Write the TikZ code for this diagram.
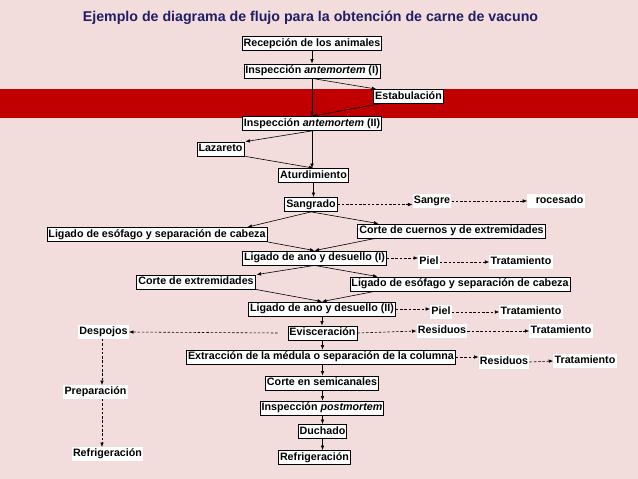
\documentclass[tikz,border=0pt]{standalone}
\usepackage{fontspec}
\setmainfont{Liberation Sans}
\usetikzlibrary{arrows.meta}
\definecolor{bgpink}{RGB}{242,220,220}
\definecolor{bandred}{RGB}{192,0,0}
\definecolor{titleblue}{RGB}{32,30,100}
\begin{document}
\begin{tikzpicture}[x=1pt,y=-1pt,
  box/.style={draw=black,line width=0.8pt,fill=white,inner xsep=1.5pt,inner ysep=1.5pt,
    text height=8.4pt,text depth=2.6pt,font=\fontsize{10.7}{12}\selectfont\bfseries},
  lab/.style={fill=white,inner xsep=1.2pt,inner ysep=1.2pt,
    text height=8.4pt,text depth=2.6pt,font=\fontsize{10.7}{12}\selectfont\bfseries},
  arr/.style={line width=0.6pt,-{Latex[length=4.5pt,width=3.6pt]}},
  darr/.style={line width=0.6pt,dash pattern=on 2.5pt off 1.8pt,-{Latex[length=4.5pt,width=3.6pt]}}]
% background
\fill[bgpink] (0,0) rectangle (638,479);
\useasboundingbox (0,0) rectangle (638,479);
\fill[bandred] (0,88.5) rectangle (638,118);
% title
\node[font=\fontsize{14.2}{17}\selectfont\bfseries,text=titleblue] (title) at (310.5,18) {Ejemplo de diagrama de flujo para la obtención de carne de vacuno};
% main boxes
\node[box] (rec) at (312,43.5) {Recepción de los animales};
\node[box] (ins1) at (312,71) {Inspección \textit{antemortem} (I)};
\node[box] (est) at (408.5,96.5) {Estabulación};
\node[box] (ins2) at (312,123.5) {Inspección \textit{antemortem} (II)};
\node[box] (laz) at (220.5,149) {Lazareto};
\node[box] (atu) at (313.5,175.5) {Aturdimiento};
\node[box] (san) at (311,204.5) {Sangrado};
\node[lab] (sgre) at (432,201) {Sangre};
\node[lab] (proc) at (556,201) {\textcolor{white}{P}rocesado};
\node[box] (le1) at (157,234.5) {Ligado de esófago y separación de cabeza};
\node[box] (ccu) at (451.5,231) {Corte de cuernos y de extremidades};
\node[box] (la1) at (314.5,258) {Ligado de ano y desuello (I)};
\node[lab] (piel1) at (429,262) {Piel};
\node[lab] (tra1) at (521,262) {Tratamiento};
\node[box] (cext) at (196,282) {Corte de extremidades};
\node[box] (le2) at (460,284) {Ligado de esófago y separación de cabeza};
\node[box] (la2) at (322,309) {Ligado de ano y desuello (II)};
\node[lab] (piel2) at (441,312) {Piel};
\node[lab] (tra2) at (531,312) {Tratamiento};
\node[box] (evi) at (322.5,333) {Evisceración};
\node[lab] (res1) at (442,331) {Residuos};
\node[lab] (tra3) at (561,331) {Tratamiento};
\node[lab] (desp) at (103.5,332) {Despojos};
\node[box] (ext) at (321,357) {Extracción de la médula o separación de la columna};
\node[lab] (res2) at (504,362) {Residuos};
\node[lab] (tra4) at (585,361) {Tratamiento};
\node[box] (cse) at (322,383) {Corte en semicanales};
\node[box] (ipm) at (322,408) {Inspección \textit{postmortem}};
\node[box] (duc) at (322.5,431.5) {Duchado};
\node[box] (ref) at (314.5,457.5) {Refrigeración};
\node[lab] (prep) at (95.5,392) {Preparación};
\node[lab] (ref2) at (107.5,454) {Refrigeración};
% solid connectors
\draw[arr] (rec.south) -- (ins1.north);
\draw[arr] (ins1.south) -- (ins2.north);
\draw[arr] (ins1.south) -- ([xshift=3pt]est.north west);
\draw[arr] ([xshift=6pt]est.south west) -- (ins2.north);
\draw[arr] (ins2.south) -- ([xshift=1pt]laz.north east);
\draw[arr] (ins2.south) -- (ins2.south |- atu.north);
\draw[arr] ([xshift=1pt]laz.south east) -- (atu.north);
\draw[arr] (atu.south) -- (atu.south |- san.north);
\draw[arr] (san.south) -- ([xshift=-20pt]le1.north east);
\draw[arr] (san.south) -- ([xshift=21pt]ccu.north west);
\draw[arr] (le1.south east) -- (la1.north);
\draw[arr] ([xshift=18pt]ccu.south west) -- (la1.north);
\draw[arr] (la1.south) -- ([xshift=1pt]cext.north east);
\draw[arr] (la1.south) -- ([xshift=28pt]le2.north west);
\draw[arr] (cext.south east) -- (la2.north);
\draw[arr] ([xshift=25pt]le2.south west) -- (la2.north);
\draw[arr] (la2.south) -- (la2.south |- evi.north);
\draw[arr] (evi.south) -- (evi.south |- ext.north);
\draw[arr] (evi.south |- ext.south) -- (evi.south |- cse.north);
\draw[arr] (evi.south |- cse.south) -- (evi.south |- ipm.north);
\draw[arr] (evi.south |- ipm.south) -- (evi.south |- duc.north);
\draw[arr] (evi.south |- duc.south) -- (evi.south |- ref.north);
% dashed connectors
\draw[darr] (san.east) -- (sgre.west |- san.east);
\draw[darr] (sgre.east) -- (proc.west);
\draw[darr] (la1.east) -- (piel1.west |- la1.east);
\draw[darr] (piel1.east) -- (tra1.west);
\draw[darr] (la2.east) -- (piel2.west |- la2.east);
\draw[darr] (piel2.east) -- (tra2.west);
\draw[darr] (evi.east) -- (res1.west);
\draw[darr] (res1.east) -- (tra3.west);
\draw[darr] (ext.east) -- (res2.west |- ext.east);
\draw[darr] (res2.east) -- (tra4.west);
\draw[darr] ([xshift=-10pt]evi.west) -- (desp.east);
\draw[darr] ([xshift=-1.5pt]desp.south) -- ([xshift=-1.5pt]desp.south |- prep.north);
\draw[darr] ([xshift=-1.5pt]desp.south |- prep.south) -- ([xshift=-1.5pt]desp.south |- ref2.north);
\end{tikzpicture}
\end{document}
